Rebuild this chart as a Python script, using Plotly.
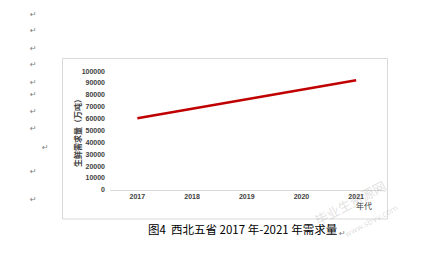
import plotly.graph_objects as go

years = ["2017", "2018", "2019", "2020", "2021"]
demand = [60300, 68200, 76000, 84000, 92300]
y_ticks = [0, 10000, 20000, 30000, 40000, 50000, 60000, 70000, 80000, 90000, 100000]

W, H = 427, 258
def px(x):
    return x / W
def py(y):
    return 1 - y / H

fig = go.Figure()
fig.add_trace(go.Scatter(x=years, y=demand, mode="lines",
                         line=dict(color="#c00000", width=2.5), showlegend=False))

tick_font = dict(family="Liberation Sans", size=7, color="#404040", weight=700)
fig.update_layout(
    width=W, height=H, margin=dict(l=0, r=0, t=0, b=0),
    paper_bgcolor="white", plot_bgcolor="white",
    xaxis=dict(domain=[px(110), px(383.5)], type="category", range=[-0.5, 4.5],
               showgrid=False, showline=True, linecolor="#d9d9d9", linewidth=1,
               ticks="", tickfont=tick_font, zeroline=False, fixedrange=True),
    yaxis=dict(domain=[py(191), py(69)], range=[0, 100000], tickvals=y_ticks,
               tickformat="d", showgrid=False, showline=False, ticks="",
               tickfont=tick_font, zeroline=False, ticklabelstandoff=4),
    font=dict(family="Liberation Sans"),
)

# chart border
fig.add_shape(type="rect", xref="paper", yref="paper",
              x0=px(62.5), x1=px(387.5), y0=py(221), y1=py(56),
              line=dict(color="#d9d9d9", width=1), fillcolor="rgba(0,0,0,0)", layer="below")

# axis titles
fig.add_annotation(text="生鲜需求量（万吨）", xref="paper", yref="paper",
                   x=px(70), y=py(131), textangle=-90, showarrow=False,
                   font=dict(family="Noto Sans CJK SC", size=8, color="#404040", weight=700))
fig.add_annotation(text="年代", xref="paper", yref="paper",
                   x=px(373), y=py(214), showarrow=False, borderpad=0,
                   font=dict(family="Noto Sans CJK SC", size=8, color="#404040"))

# caption
fig.add_annotation(text="图4  西北五省 2017 年-2021 年需求量", xref="paper", yref="paper",
                   x=px(243), y=py(242), showarrow=False,
                   font=dict(family="Noto Sans CJK SC", size=11.5, color="#000000"))
fig.add_annotation(text="↵", xref="paper", yref="paper",
                   x=px(348), y=py(243), showarrow=False,
                   font=dict(family="DejaVu Sans", size=8, color="#808080"))

# paragraph marks
marks = [(28, 4), (28, 21), (28, 39), (28, 56), (28, 74), (28, 93), (28, 110), (28, 128),
         (40, 147), (28, 172), (28, 208)]
for mx, my in marks:
    fig.add_annotation(text="↵", xref="paper", yref="paper", x=px(mx), y=py(my),
                       showarrow=False, font=dict(family="DejaVu Sans", size=8, color="#808080"))

# watermark
fig.add_annotation(text="毕业生资源网", xref="paper", yref="paper", x=px(392), y=py(234),
                   textangle=-28, showarrow=False,
                   font=dict(family="Noto Sans CJK SC", size=13, color="rgba(150,150,150,0.3)"))
fig.add_annotation(text="www.sbvv.com", xref="paper", yref="paper", x=px(402), y=py(245),
                   textangle=-28, showarrow=False,
                   font=dict(family="DejaVu Sans", size=8, color="rgba(150,150,150,0.3)"))

fig.write_html("out.html")
